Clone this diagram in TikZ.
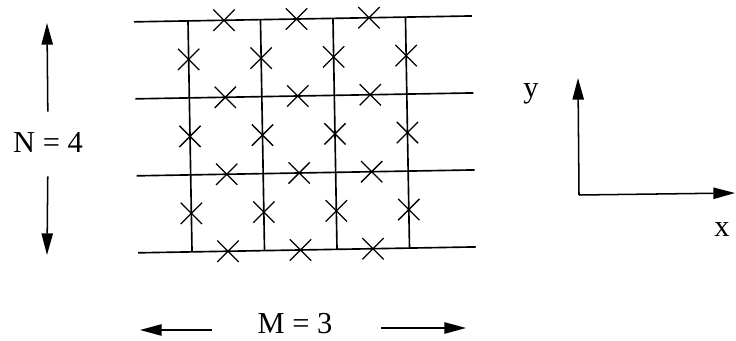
\documentclass[tikz,border=0pt]{standalone}
\usepackage{fontspec}
\setmainfont{Liberation Serif}
\usetikzlibrary{arrows.meta,shapes.misc}

\tikzset{
  gridline/.style={line width=1.4pt},
  xmark/.style={cross out, draw, line width=1.1pt, minimum size=0.6cm, inner sep=0pt},
  dimarrow/.style={line width=1.3pt, -{Triangle[length=0.65cm,width=0.34cm]}},
  biglabel/.style={font=\fontsize{26}{30}\selectfont, inner sep=0pt}
}

\begin{document}
\begin{tikzpicture}[x=0.03cm,y=-0.03cm]

    % Picture frame (pixels of the reference)
    \useasboundingbox (0,0) rectangle (736,341);

    % Lattice, slightly tilted
    \begin{scope}[rotate around={1.0:(298,135)}]
      % Horizontal lines
      \foreach \r/\y in {1/19,2/96,3/173,4/250}
      \draw[gridline] (136,\y) coordinate (h\r w) -- (474,\y) coordinate (h\r e);

      % Vertical lines
      \foreach \c/\x in {1/190,2/262.5,3/335,4/407.5}
      \draw[gridline] (\x,19) coordinate (v\c n) -- (\x,250) coordinate (v\c s);

      % Crosses on the horizontal lines
      \foreach \r/\y in {1/19,2/96,3/173,4/250}
      \foreach \c/\x in {1/226,2/298.5,3/371}
      \node[xmark] (hx\r\c) at (\x,\y) {};

      % Crosses on the vertical lines
      \foreach \r/\y in {1/57.5,2/134.5,3/211.5}
      \foreach \c/\x in {1/190,2/262.5,3/335,4/407.5}
      \node[xmark] (vx\r\c) at (\x,\y) {};
    \end{scope}

    % Number of rows
    \node[biglabel] (Nlab) at (48,142) {N = 4};
    \coordinate (Ntop) at (47,23);
    \coordinate (Nbot) at (47,255);
    \draw[dimarrow, shorten <=0.6cm] (Nlab.north) -- (Ntop);
    \draw[dimarrow, shorten <=0.72cm] (Nlab.south) -- (Nbot);

    % Number of columns
    \node[biglabel] (Mlab) at (295,324) {M = 3};
    \coordinate (Mleft) at (140,330);
    \coordinate (Mright) at (466,328);
    \draw[dimarrow, shorten <=1.35cm] (Mlab.west |- Mleft) -- (Mleft);
    \draw[dimarrow, shorten <=1.45cm] (Mlab.east |- Mright) -- (Mright);

    % Axes
    \coordinate (O) at (579,195);
    \coordinate (ytip) at (578,78);
    \coordinate (xtip) at (735,193);
    \draw[dimarrow] (O) -- (ytip);
    \draw[dimarrow] (O) -- (xtip);
    \node[biglabel] (ylab) at (531,94) {y};
    \node[biglabel] (xlab) at (722,230) {x};

\end{tikzpicture}
\end{document}
